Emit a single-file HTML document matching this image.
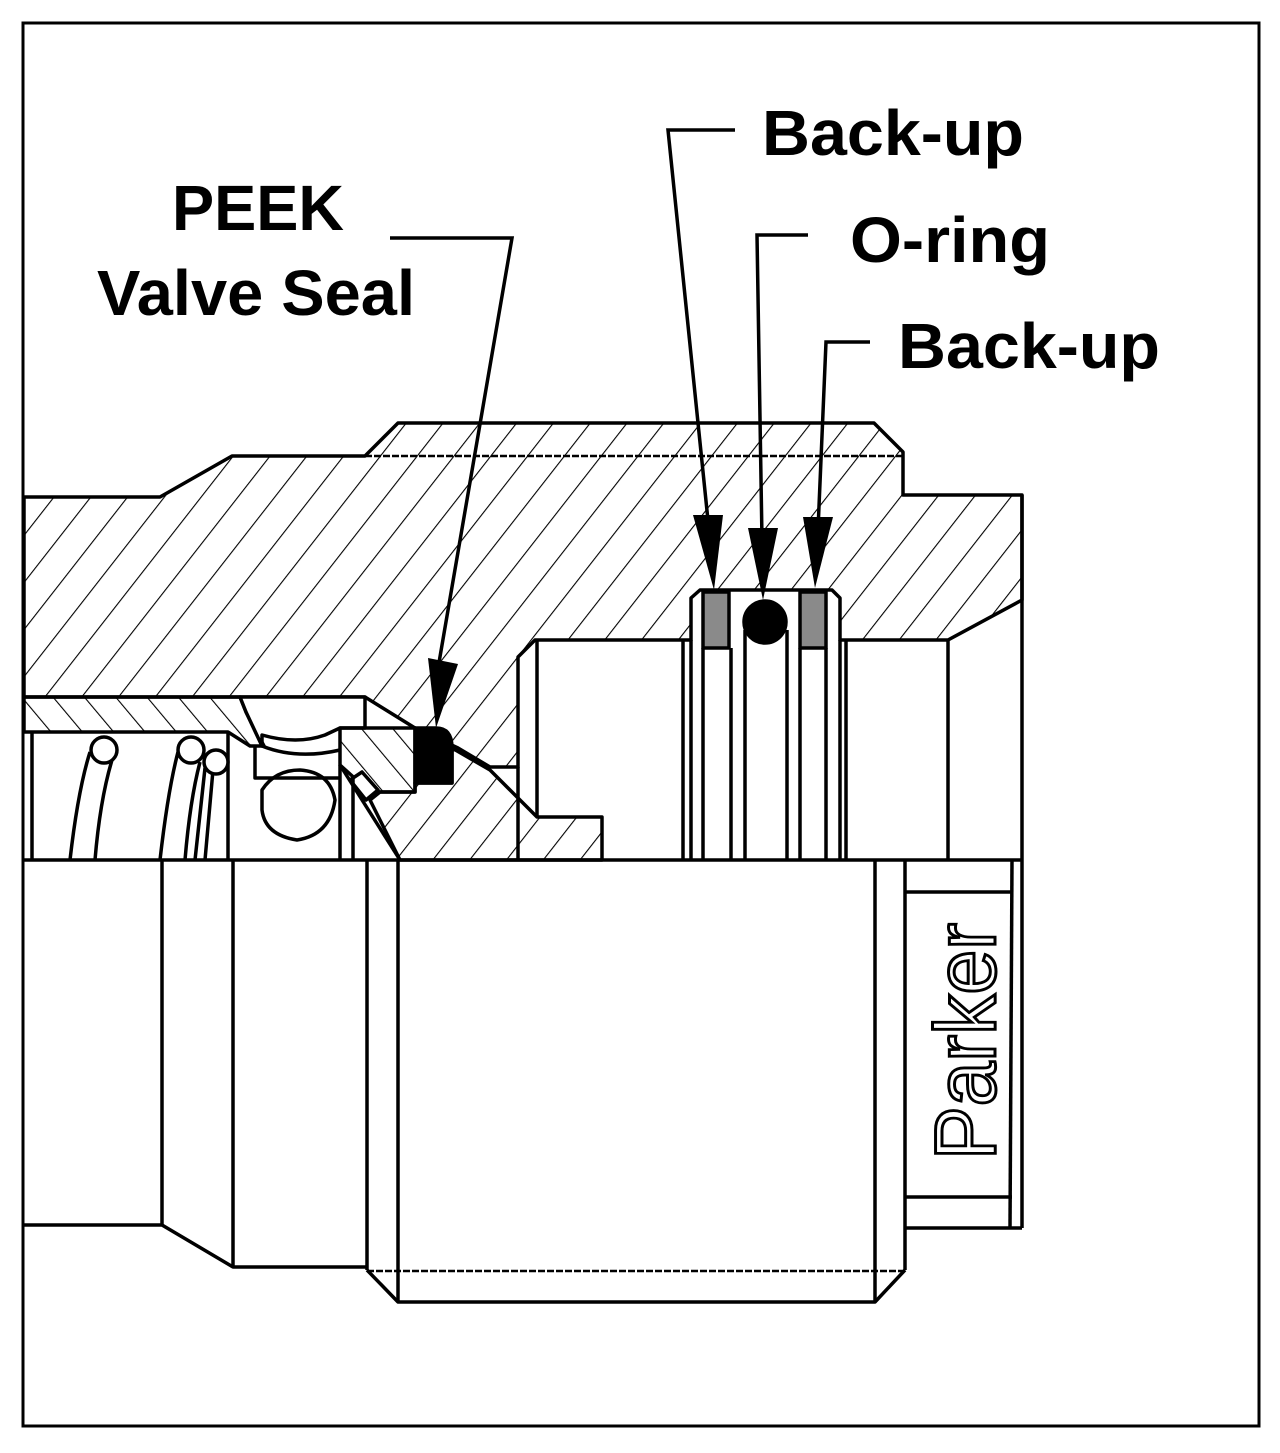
<!DOCTYPE html>
<html><head><meta charset="utf-8"><style>
html,body{margin:0;padding:0;background:#fff}
svg{display:block}
</style></head><body>
<svg width="1280" height="1453" viewBox="0 0 1280 1453" xmlns="http://www.w3.org/2000/svg">
<defs>
<pattern id="h1" patternUnits="userSpaceOnUse" width="29" height="29" patternTransform="rotate(38)">
<line x1="0" y1="0" x2="0" y2="29" stroke="#000" stroke-width="2.2"/>
</pattern>
<pattern id="h2" patternUnits="userSpaceOnUse" width="24" height="24" patternTransform="rotate(-40)">
<line x1="0" y1="0" x2="0" y2="24" stroke="#000" stroke-width="2.2"/>
</pattern>
</defs>
<rect x="0" y="0" width="1280" height="1453" fill="#fff"/>
<rect x="23" y="23" width="1236" height="1403" fill="none" stroke="#000" stroke-width="3"/>

<g stroke="#000" stroke-width="3.5" stroke-linejoin="round" fill="none">
<path fill="url(#h1)" d="M24,497 L160,497 L232,456 L365,456 L398,423 L874,423 L903,452 L903,495 L1022,495 L1022,600 L948,640 L840,640 L840,598 L832,590 L700,590 L691,598 L691,640 L535,640 L518,657 L518,767 L490,767 L458,748 L415,728 L365,697 L24,697 Z"/>
<line x1="365" y1="456" x2="903" y2="456" stroke-width="2.5" stroke-dasharray="7 2"/>
<path fill="url(#h2)" d="M24,697 L240,697 L246,712 L264,746 L250,746 L228,732 L24,732 Z"/>
<path fill="#fff" d="M240,697 L365,697 L365,728 L340,728 L325,735 Q297,745 262,735 L262,746 L246,712 Z"/>
<path d="M255,746 L255,778 L340,778"/>
<path d="M262,746 Q297,760 340,750"/>
<path fill="url(#h2)" d="M340,728 L415,728 L415,792 L370,792 L340,765 Z"/>
<path fill="url(#h1)" d="M370,800 L380,792 L415,792 L415,783 L452,783 L452,748 L490,770 L537,817 L602,817 L602,860 L400,860 Z"/>
<path d="M340,765 L400,860"/>
<path d="M350,780 L362,772 L378,790 L366,800 Z" fill="#fff"/>
<path fill="#000" d="M415,728 L436,728 Q452,728 452,748 L452,783 L415,783 Z"/>
<line x1="537" y1="640" x2="537" y2="817"/>
<line x1="518" y1="767" x2="518" y2="860"/>
<line x1="948" y1="640" x2="948" y2="860"/>
<line x1="683" y1="640" x2="683" y2="860"/>
<line x1="691" y1="640" x2="691" y2="860"/>
<line x1="703" y1="648" x2="703" y2="860"/>
<line x1="731" y1="648" x2="731" y2="860"/>
<line x1="745" y1="630" x2="745" y2="860"/>
<line x1="787" y1="630" x2="787" y2="860"/>
<line x1="800" y1="648" x2="800" y2="860"/>
<line x1="826" y1="648" x2="826" y2="860"/>
<line x1="840" y1="640" x2="840" y2="860"/>
<line x1="846" y1="640" x2="846" y2="860"/>
<rect x="703" y="592" width="26" height="56" fill="#8a8a8a"/>
<rect x="800" y="592" width="26" height="56" fill="#8a8a8a"/>
<circle cx="765" cy="622" r="21" fill="#000"/>
<line x1="32" y1="732" x2="32" y2="860"/>
<line x1="228" y1="732" x2="228" y2="860"/>
<line x1="340" y1="765" x2="340" y2="860"/>
<line x1="353" y1="778" x2="353" y2="860"/>
<path d="M262,790 Q275,770 300,770 Q330,772 335,800 Q330,835 297,840 Q265,835 262,810 Z"/>
<path d="M70,860 Q78,790 90,752 M95,860 Q100,800 112,760"/>
<circle cx="104" cy="750" r="13" fill="#fff"/>
<path d="M160,860 Q168,790 178,752 M185,860 Q190,800 200,762 M195,860 L205,768 M205,860 L213,770"/>
<circle cx="191" cy="750" r="13" fill="#fff"/>
<circle cx="216" cy="762" r="12" fill="#fff"/>
<line x1="24" y1="860" x2="1022" y2="860"/>
<path d="M24,1225 L162,1225 L233,1267 L367,1267"/>
<line x1="162" y1="860" x2="162" y2="1225"/>
<line x1="233" y1="860" x2="233" y2="1267"/>
<line x1="367" y1="860" x2="367" y2="1270"/>
<line x1="398" y1="860" x2="398" y2="1302"/>
<line x1="875" y1="860" x2="875" y2="1302"/>
<line x1="905" y1="860" x2="905" y2="1270"/>
<path d="M367,1270 L398,1302 L875,1302 L905,1270"/>
<line x1="367" y1="1271" x2="905" y2="1271" stroke-width="2.5" stroke-dasharray="7 2"/>
<line x1="1022" y1="495" x2="1022" y2="1228"/>
<line x1="1012" y1="860" x2="1010" y2="1228"/>
<line x1="905" y1="1228" x2="1022" y2="1228"/>
<line x1="905" y1="892" x2="1012" y2="892"/>
<line x1="905" y1="1197" x2="1012" y2="1197"/>
</g>
<text transform="translate(995,1160) rotate(-90)" font-family="Liberation Sans, sans-serif" font-size="86" fill="#fff" stroke="#000" stroke-width="3" textLength="237" lengthAdjust="spacingAndGlyphs">Parker</text>

<g stroke="#000" stroke-width="3.5" fill="none">
<path d="M390,238 L512,238 L436,680"/>
<path d="M735,130 L668,130 L710,540"/>
<path d="M808,235 L757,235 L762,540"/>
<path d="M870,342 L826,342 L818,530"/>
</g>
<g fill="#000">
<polygon points="428,658 458,664 436,728"/>
<polygon points="693,515 723,515 714,590"/>
<polygon points="748,528 778,528 763,600"/>
<polygon points="803,517 833,517 815,588"/>
</g>
<g font-family="Liberation Sans, sans-serif" font-weight="bold" font-size="64" fill="#000">
<text x="172" y="230" textLength="172" lengthAdjust="spacingAndGlyphs">PEEK</text>
<text x="97" y="315" textLength="318" lengthAdjust="spacingAndGlyphs">Valve Seal</text>
<text x="762" y="155" textLength="262" lengthAdjust="spacingAndGlyphs">Back-up</text>
<text x="850" y="262" textLength="200" lengthAdjust="spacingAndGlyphs">O-ring</text>
<text x="898" y="368" textLength="262" lengthAdjust="spacingAndGlyphs">Back-up</text>
</g>
</svg>
</body></html>
